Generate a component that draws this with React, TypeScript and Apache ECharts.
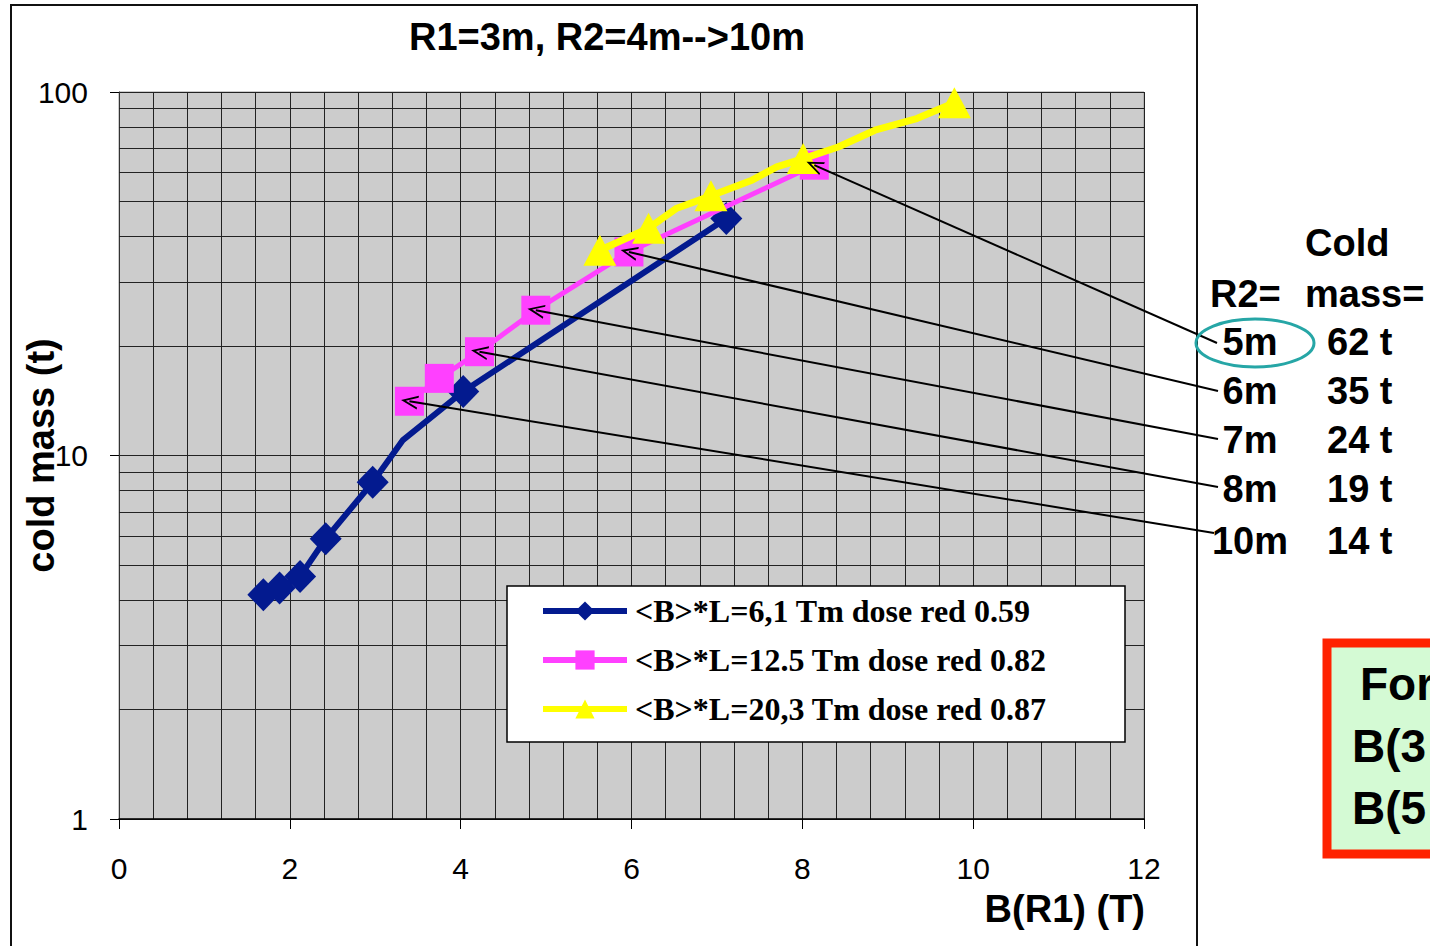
import React, { useEffect, useRef } from 'react';
import * as echarts from 'echarts';

// ---------- data ----------
const seriesNames = [
  '<B>*L=6,1 Tm dose red 0.59',
  '<B>*L=12.5 Tm dose red 0.82',
  '<B>*L=20,3 Tm dose red 0.87',
];

// blue series (diamonds); unmarked points are line vertices without a marker
const blueB = [1.69, 1.88, 2.12, 2.42, 2.97, 3.32, 4.03, 7.11];
const blueMass = [4.14, 4.32, 4.65, 5.9, 8.44, 11.0, 15.0, 44.9];
const blueMarked = [true, true, true, true, true, false, true, true];

// pink series (squares)
const pinkB = [3.4, 3.75, 4.22, 4.88, 5.97, 8.14];
const pinkMass = [14.1, 16.3, 19.3, 25.1, 36.3, 62.9];
const pinkMarked = [true, true, true, true, true, true];

// yellow series (triangles)
const yellowB = [5.63, 6.2, 6.53, 6.93, 7.41, 7.7, 8.01, 8.42, 8.85, 9.34, 9.78];
const yellowMass = [36.7, 42.2, 47.9, 51.8, 57.2, 62.2, 65.6, 70.6, 78.5, 84.5, 93.4];
const yellowMarked = [true, true, false, true, false, false, true, false, false, false, true];

// minor horizontal grid lines of the log axis
const minorMassLines = [2, 3, 4, 5, 6, 7, 8, 9, 20, 30, 40, 50, 60, 70, 80, 90];

// right-hand annotation table
const r2Labels = ['5m', '6m', '7m', '8m', '10m'];
const massLabels = ['62 t', '35 t', '24 t', '19 t', '14 t'];
const arrowPinkIndex = [5, 4, 3, 2, 0];

const title = 'R1=3m, R2=4m-->10m';
const xName = 'B(R1) (T)';
const yName = 'cold mass (t)';

// ---------- styles ----------
const SANS = '"Liberation Sans", Arial, sans-serif';
const SERIF = '"Liberation Serif", "Times New Roman", serif';
const BLUE = '#031a8f';
const PINK = '#ff40ff';
const YELLOW = '#ffff00';
const ARROW = 'path://M5,0L10,12L8.6,12L5,3.4L1.4,12L0,12Z';

function pairs(xs: number[], ys: number[], marked: boolean[]) {
  return xs.map((x, i) =>
    marked[i] ? [x, ys[i]] : { value: [x, ys[i]], symbol: 'none' }
  );
}

function txt(
  text: string,
  x: number,
  y: number,
  size: number,
  align: string = 'left'
) {
  return {
    type: 'text',
    x,
    y,
    z: 10,
    style: {
      text,
      fill: '#000',
      fontFamily: SANS,
      fontWeight: 'bold',
      fontSize: size,
      align,
      textAlign: align,
      verticalAlign: 'middle',
      textVerticalAlign: 'middle',
    },
  };
}

export default function App() {
  const ref = useRef<HTMLDivElement>(null);

  useEffect(() => {
    if (!ref.current) return;
    const chart = echarts.init(ref.current, null, { renderer: 'svg' });

    const labelRowsY = [342, 391, 440, 489, 541];
    const arrowEnds = [
      [1217, 343],
      [1218, 391],
      [1218, 439],
      [1218, 487],
      [1214, 533],
    ];

    const graphics: any[] = [
      // outer chart frame
      {
        type: 'rect',
        z: 0,
        shape: { x: 11, y: 5, width: 1186, height: 970 },
        style: { fill: 'none', stroke: '#111', lineWidth: 2 },
      },
      // legend box
      {
        type: 'rect',
        z: 3,
        shape: { x: 507, y: 586, width: 618, height: 156 },
        style: { fill: '#fff', stroke: '#000', lineWidth: 1.5 },
      },
      // x axis name
      txt(xName, 1145, 909, 38, 'right'),
      // annotation table
      txt('Cold', 1305, 243, 38),
      txt('R2=', 1210, 294, 38),
      txt('mass=', 1305, 294, 38),
      ...r2Labels.map((l, i) => txt(l, 1250, labelRowsY[i], 38, 'center')),
      ...massLabels.map((l, i) => txt(l, 1327, labelRowsY[i], 38)),
      // teal ellipse around 5m
      {
        type: 'ellipse',
        z: 11,
        shape: { cx: 1255, cy: 343, rx: 59, ry: 24 },
        style: { fill: 'none', stroke: '#26a6a6', lineWidth: 3 },
      },
      // red/green box at bottom right
      {
        type: 'rect',
        z: 5,
        shape: { x: 1327, y: 643, width: 200, height: 211 },
        style: { fill: '#d4fad4', stroke: '#ff2200', lineWidth: 9 },
      },
      txt('For', 1360, 684, 46),
      txt('B(3', 1352, 746, 46),
      txt('B(5', 1352, 808, 46),
    ];

    const option: any = {
      animation: false,
      backgroundColor: '#fff',
      title: {
        text: title,
        left: 607,
        top: 18,
        textAlign: 'center',
        padding: 0,
        textStyle: { fontFamily: SANS, fontWeight: 'bold', fontSize: 38, color: '#000' },
      },
      grid: {
        left: 119,
        top: 92,
        width: 1025,
        height: 727,
        show: true,
        containLabel: false,
        outerBoundsMode: 'none',
        backgroundColor: '#cccccc',
        borderColor: '#999',
        borderWidth: 1,
      },
      legend: {
        orient: 'vertical',
        left: 540,
        top: 595,
        padding: 0,
        itemWidth: 84,
        itemHeight: 24,
        itemGap: 17,
        selectedMode: false,
        data: seriesNames,
        lineStyle: { width: 6 },
        textStyle: {
          fontFamily: SERIF,
          fontWeight: 'bold',
          fontSize: 32,
          color: '#000',
          padding: [0, 0, 0, 3],
        },
      },
      xAxis: {
        type: 'value',
        min: 0,
        max: 12,
        interval: 2,
        axisLine: { show: true, onZero: false, lineStyle: { color: '#000', width: 1.5 } },
        axisTick: { show: true, length: 10, lineStyle: { color: '#000' } },
        axisLabel: { fontFamily: SANS, fontSize: 30, color: '#000', margin: 34 },
        splitLine: { show: true, lineStyle: { color: '#222', width: 1 } },
        minorTick: { show: false, splitNumber: 5 },
        minorSplitLine: { show: true, lineStyle: { color: '#222', width: 1 } },
      },
      yAxis: {
        type: 'log',
        logBase: 10,
        min: 1,
        max: 100,
        name: yName,
        nameLocation: 'middle',
        nameGap: 59,
        nameMoveOverlap: false,
        nameTextStyle: { fontFamily: SANS, fontWeight: 'bold', fontSize: 38, color: '#000' },
        axisLine: { show: true, lineStyle: { color: '#333', width: 1 } },
        axisTick: { show: true, length: 9, lineStyle: { color: '#000' } },
        axisLabel: { fontFamily: SANS, fontSize: 30, color: '#000', margin: 31 },
        splitLine: { show: true, lineStyle: { color: '#222', width: 1 } },
      },
      series: [
        {
          name: seriesNames[0],
          type: 'line',
          z: 3,
          data: pairs(blueB, blueMass, blueMarked),
          symbol: 'diamond',
          symbolSize: [32, 33],
          lineStyle: { color: BLUE, width: 6 },
          itemStyle: { color: BLUE },
        },
        {
          name: seriesNames[1],
          type: 'line',
          z: 4,
          data: pairs(pinkB, pinkMass, pinkMarked),
          symbol: 'rect',
          symbolSize: 29,
          lineStyle: { color: PINK, width: 5 },
          itemStyle: { color: PINK },
        },
        {
          name: seriesNames[2],
          type: 'line',
          z: 5,
          data: pairs(yellowB, yellowMass, yellowMarked),
          symbol: 'triangle',
          symbolSize: [33, 31],
          lineStyle: { color: YELLOW, width: 7 },
          itemStyle: { color: YELLOW },
        },
        {
          name: 'minor grid',
          type: 'line',
          data: [],
          silent: true,
          markLine: {
            silent: true,
            z: 1,
            symbol: ['none', 'none'],
            label: { show: false },
            lineStyle: { color: '#222', width: 1, type: 'solid' },
            emphasis: { disabled: true },
            data: minorMassLines.map((v) => ({ yAxis: v })),
          },
        },
        {
          name: 'arrows',
          type: 'line',
          data: [],
          silent: true,
          clip: false,
          markLine: {
            silent: true,
            z: 8,
            symbol: [ARROW, 'none'],
            symbolSize: [14, 17],
            label: { show: false },
            lineStyle: { color: '#000', width: 2, type: 'solid' },
            emphasis: { disabled: true },
            data: arrowPinkIndex.map((pi, i) => [
              { coord: [pinkB[pi], pinkMass[pi]] },
              { x: arrowEnds[i][0], y: arrowEnds[i][1] },
            ]),
          },
        },
      ],
      graphic: { elements: graphics },
    };

    chart.setOption(option);
    return () => chart.dispose();
  }, []);

  return (
    <div
      ref={ref}
      style={{ position: 'fixed', left: 0, top: 0, width: 1430, height: 946, background: '#fff' }}
    />
  );
}
